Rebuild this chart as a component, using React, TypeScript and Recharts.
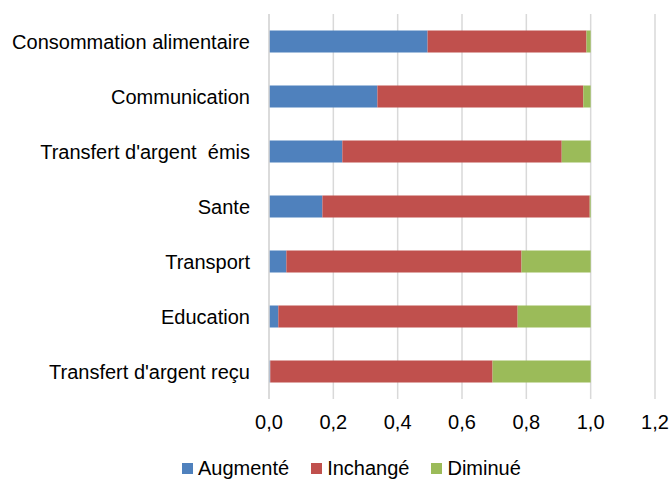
import { BarChart, Bar, XAxis, YAxis, CartesianGrid, Legend } from "recharts";

const categories = [
  "Consommation alimentaire",
  "Communication",
  "Transfert d'argent  émis",
  "Sante",
  "Transport",
  "Education",
  "Transfert d'argent reçu",
];
const augmente = [0.493, 0.337, 0.228, 0.166, 0.054, 0.029, 0.004];
const inchange = [0.494, 0.64, 0.682, 0.831, 0.731, 0.744, 0.691];
const diminue = [0.013, 0.023, 0.09, 0.003, 0.215, 0.227, 0.305];
const xTicks = [0, 0.2, 0.4, 0.6, 0.8, 1.0, 1.2];

const series = [
  { key: "augmente", name: "Augmenté", color: "#4f81bd" },
  { key: "inchange", name: "Inchangé", color: "#c0504d" },
  { key: "diminue", name: "Diminué", color: "#9bbb59" },
];

const data = categories.map((c, i) => ({
  cat: c,
  augmente: augmente[i],
  inchange: inchange[i],
  diminue: diminue[i],
}));

const FONT = "'Liberation Sans', Arial, sans-serif";
const GRID = "#d9d9d9";

function CatTick(props: { x?: number; y?: number; payload?: { value: string } }) {
  const { x = 0, y = 0, payload } = props;
  return (
    <text
      x={x}
      y={y}
      dy={7}
      textAnchor="end"
      fill="#000"
      fontSize={20}
      fontFamily={FONT}
      style={{ whiteSpace: "pre" }}
    >
      {payload?.value}
    </text>
  );
}

function LegendBox() {
  return (
    <div
      style={{
        height: 28,
        display: "flex",
        alignItems: "center",
        paddingLeft: 182,
        fontFamily: FONT,
        fontSize: 20,
        color: "#000",
      }}
    >
      {series.map((s) => (
        <div key={s.key} style={{ display: "flex", alignItems: "center", marginRight: 22 }}>
          <span
            style={{ width: 11, height: 11, background: s.color, marginRight: 5, display: "inline-block" }}
          />
          <span>{s.name}</span>
        </div>
      ))}
    </div>
  );
}

export default function App() {
  return (
    <div style={{ position: "absolute", left: 0, top: 0, background: "#fff" }}>
      <BarChart
        width={671}
        height={482}
        data={data}
        layout="vertical"
        barCategoryGap="30%"
        margin={{ top: 14, right: 16, bottom: 0, left: 0 }}
      >
        <CartesianGrid horizontal={false} stroke={GRID} strokeWidth={1.5} />
        <XAxis
          type="number"
          domain={[0, 1.2]}
          ticks={xTicks}
          axisLine={false}
          tickLine={false}
          tickSize={0}
          tickMargin={16}
          height={55}
          interval={0}
          tick={{ fill: "#000", fontSize: 20, fontFamily: FONT }}
          tickFormatter={(v: number) => v.toFixed(1).replace(".", ",")}
        />
        <YAxis
          type="category"
          dataKey="cat"
          width={269}
          axisLine={{ stroke: GRID, strokeWidth: 1.5 }}
          tickLine={false}
          tickSize={0}
          tickMargin={19}
          interval={0}
          tick={<CatTick />}
        />
        <Legend verticalAlign="bottom" content={() => <LegendBox />} />
        {series.map((s) => (
          <Bar
            key={s.key}
            dataKey={s.key}
            name={s.name}
            stackId="a"
            fill={s.color}
            isAnimationActive={false}
          />
        ))}
      </BarChart>
    </div>
  );
}
